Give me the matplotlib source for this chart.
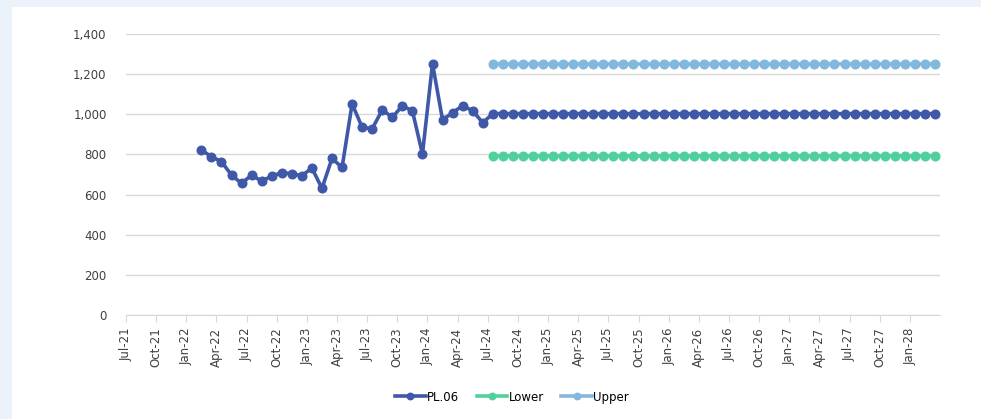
import pandas as pd
import matplotlib.pyplot as plt
from matplotlib.patches import Rectangle

# meses do eixo (Jul-21 .. Mar-28)
meses = pd.date_range("2021-07-01", "2028-03-01", freq="MS")
rotulos = [m.strftime("%b-%y") for m in meses]

# PL.06 historico (Feb-22 .. Jun-24)
pl06_hist = [822, 789, 764, 697, 656, 697, 667, 692, 709, 704, 694, 732,
             631, 780, 735, 1052, 935, 928, 1022, 985, 1042, 1017, 802,
             1252, 972, 1008, 1043, 1017, 958]
# previsao a partir de Jul-24
n_prev = 45
pl06_prev = [1003] * n_prev
lower = [792] * n_prev
upper = [1252] * n_prev

inicio_hist = list(meses).index(pd.Timestamp("2022-02-01"))
inicio_prev = list(meses).index(pd.Timestamp("2024-07-01"))

pl06 = pl06_hist + pl06_prev
x_pl = [inicio_hist + i + 0.5 for i in range(len(pl06))]
x_prev = [inicio_prev + i + 0.5 for i in range(n_prev)]

azul = "#3F59A8"
verde = "#4FD09C"
azul_claro = "#82B7DE"

fig = plt.figure(figsize=(9.81, 4.19), dpi=100)
fig.patch.set_facecolor("#EBF2FA")
fundo = Rectangle((12 / 981, 0), 1, 1 - 7 / 419, transform=fig.transFigure,
                  facecolor="white", edgecolor="none", zorder=-10)
fig.add_artist(fundo)

ax = fig.add_axes([126 / 981, 1 - 315 / 419, (940 - 126) / 981, (315 - 34) / 419])
ax.set_facecolor("none")

ax.plot(x_pl, pl06, color=azul, lw=2.6, marker="o", ms=6.2, label="PL.06", zorder=3)
ax.plot(x_prev, lower, color=verde, lw=2.6, marker="o", ms=6.2, label="Lower", zorder=3)
ax.plot(x_prev, upper, color=azul_claro, lw=2.6, marker="o", ms=6.2, label="Upper", zorder=3)

ax.set_xlim(0, len(meses))
ax.set_ylim(0, 1400)
ax.set_yticks(range(0, 1401, 200))
ax.set_yticklabels([f"{v:,}" for v in range(0, 1401, 200)], fontsize=8.5, color="#404040")
ax.yaxis.grid(True, color="#D9D9D9", lw=1)
ax.set_axisbelow(True)
ax.tick_params(axis="y", length=0, pad=14)

pos = list(range(0, len(meses), 3))
ax.set_xticks(pos)
ax.set_xticklabels([rotulos[p] for p in pos], rotation=90, fontsize=8.5, color="#404040")
ax.tick_params(axis="x", length=5, color="#D9D9D9", pad=4)

for s in ["top", "left", "right"]:
    ax.spines[s].set_visible(False)
ax.spines["bottom"].set_color("#D9D9D9")

ax.legend(loc="center", bbox_to_anchor=(512 / 981, 1 - 397 / 419), bbox_transform=fig.transFigure,
          ncol=3, frameon=False, fontsize=8.5, handlelength=2.6, handletextpad=0.1,
          columnspacing=1.5, markerscale=0.75)

plt.savefig("out.png", dpi=100, facecolor=fig.get_facecolor())
